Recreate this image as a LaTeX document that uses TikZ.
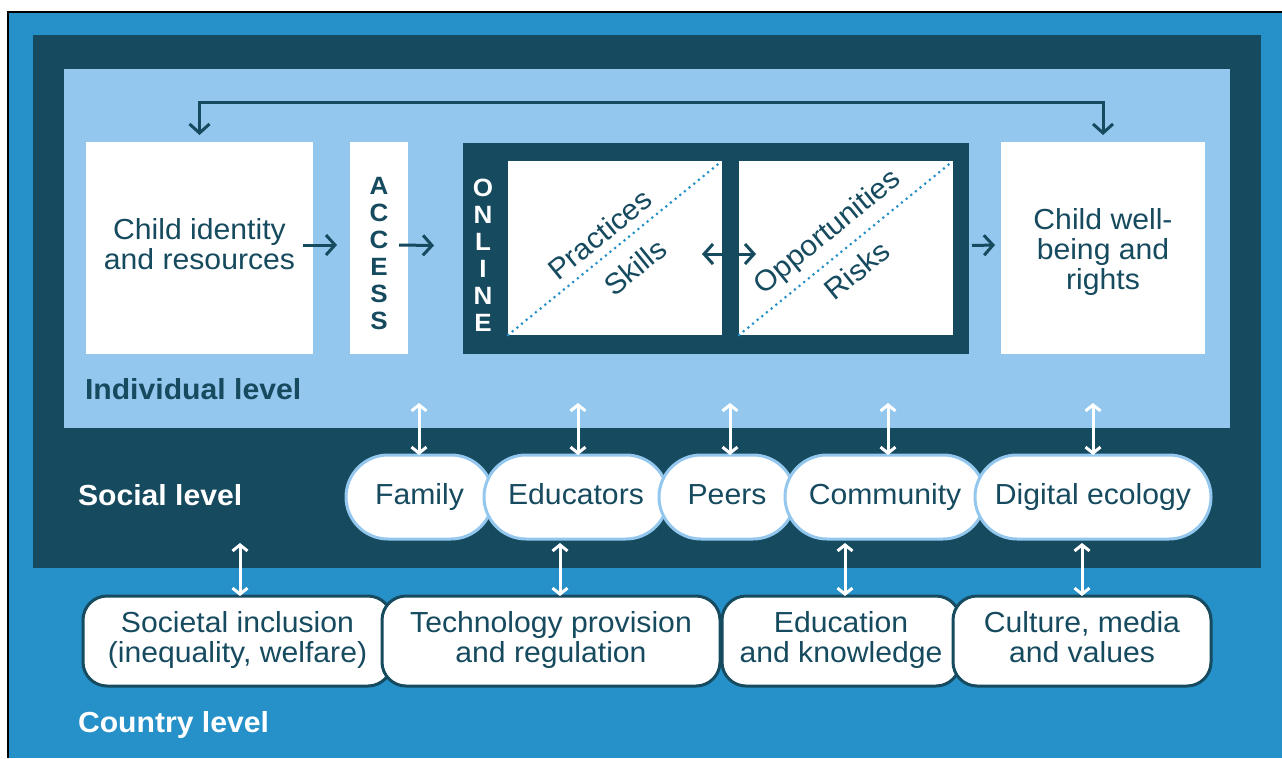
\documentclass[tikz,border=0pt]{standalone}
\usepackage{fontspec}
\setmainfont[FakeStretch=1.04]{Liberation Sans}
\usetikzlibrary{arrows.meta,shapes.misc}
\definecolor{midblue}{HTML}{2690C8}
\definecolor{navy}{HTML}{164A5E}
\definecolor{lightblue}{HTML}{93C7EE}
\begin{document}
\begin{tikzpicture}[x=1pt,y=-1pt,
  every node/.style={outer sep=0pt, inner sep=0pt},
  wbox/.style={rectangle, fill=white},
  txt/.style={font=\fontsize{29}{30}\selectfont, text=navy, align=center},
  lvl/.style={font=\bfseries\fontsize{29}{30}\selectfont, anchor=west},
  vlet/.style={font=\bfseries\fontsize{25}{27}\selectfont, align=center},
  diagtxt/.style={txt, rotate=39},
  oval/.style={rounded rectangle, fill=white, draw=lightblue, line width=3pt, minimum height=84pt, txt, text height=21pt, text depth=6pt},
  cbox/.style={rectangle, rounded corners=24pt, fill=white, draw=navy, line width=3pt, minimum height=90pt, txt, execute at end node={\strut}},
  navyarrow/.style={draw=navy, line width=3pt, -{Straight Barb[length=9pt,width=20pt]}},
  navyboth/.style={draw=navy, line width=3pt, {Straight Barb[length=9pt,width=20pt]}-{Straight Barb[length=9pt,width=20pt]}},
  whitearrow/.style={draw=white, line width=3pt, {Straight Barb[length=6pt,width=15pt]}-{Straight Barb[length=6pt,width=15pt]}},
  dotline/.style={draw=midblue, line width=3pt, line cap=round, dash pattern=on 0pt off 6pt}
]
\useasboundingbox (0,0) rectangle (1282,758);
% backgrounds
\fill[white] (0,0) rectangle (1282,758);
\fill[midblue] (8,11) rectangle (1282,758);
\draw[black, line width=2pt] (8.3,758) -- (8.3,12) -- (1282,12);
\fill[navy] (33,35) rectangle (1261,568);
\fill[lightblue] (64,69) rectangle (1230,428);

% individual level
\node[wbox, minimum width=227pt, minimum height=212pt] (ci) at (199.5,248) {};
\node[txt] (cit) at (199.5,244) {Child identity\\and resources};
\node[wbox, minimum width=58pt, minimum height=212pt] (acc) at (379,248) {};
\node[vlet, text=navy] (acct) at (379,254) {A\\C\\C\\E\\S\\S};
\node[rectangle, fill=navy, minimum width=506pt, minimum height=211pt] (onl) at (716,248.5) {};
\node[vlet, text=white] (onlt) at (483,255) {O\\N\\L\\I\\N\\E};
\node[wbox, minimum width=214pt, minimum height=174pt] (pr) at (615,248) {};
\node[wbox, minimum width=214pt, minimum height=174pt] (op) at (846,248) {};
\draw[dotline] (pr.south west) -- (pr.north east);
\draw[dotline] (op.south west) -- (op.north east);
\node[diagtxt] (prt) at (600,234) {Practices};
\node[diagtxt] (skt) at (635,267) {Skills};
\node[diagtxt] (opt) at (828,233) {Opportunities};
\node[diagtxt] (rit) at (857,270) {Risks};
\node[wbox, minimum width=204pt, minimum height=212pt] (wb) at (1103,248) {};
\node[txt] (wbt) at (1103,252) {Child well-\\being and\\rights};

\draw[navyarrow] ([shift={(-10,-3)}]ci.east) -- ([shift={(-13,-3)}]acc.west);
\draw[navyarrow] ([shift={(-9,-3)}]acc.east) -- ([shift={(-29,-3)}]onl.west);
\draw[navyboth] ([shift={(-20,6)}]pr.east) -- ([shift={(17,6)}]op.west);
\draw[navyarrow] ([shift={(3,-3)}]onl.east) -- ([shift={(-6,-3)}]wb.west);
\draw[navyboth] ([shift={(0,-7)}]ci.north) -- ++(0,-33) -| ([shift={(0,-7)}]wb.north);

\node[lvl, text=navy] (indl) at (85,389) {Individual level};

% social level
\node[oval, minimum width=147pt] (fam) at (419.5,497) {Family};
\node[oval, minimum width=184pt] (edu) at (576,497) {Educators};
\node[oval, minimum width=136pt] (peer) at (727,497) {Peers};
\node[oval, minimum width=200pt] (com) at (885,497) {Community};
\node[oval, minimum width=236pt] (dig) at (1093,497) {Digital ecology};
\node[lvl, text=white] (socl) at (78,495) {Social level};

\coordinate (famtop) at (419,403);
\coordinate (edutop) at (578,403);
\coordinate (peertop) at (730,403);
\coordinate (comtop) at (888,403);
\coordinate (digtop) at (1093,403);
\draw[whitearrow] (famtop) -- (famtop |- fam.north);
\draw[whitearrow] (edutop) -- (edutop |- edu.north);
\draw[whitearrow] (peertop) -- (peertop |- peer.north);
\draw[whitearrow] (comtop) -- (comtop |- com.north);
\draw[whitearrow] (digtop) -- (digtop |- dig.north);

% country level
\node[cbox, minimum width=309pt] (si) at (237.5,641) {Societal inclusion\\(inequality, welfare)};
\node[cbox, minimum width=338pt] (tech) at (551,641) {Technology provision\\and regulation};
\node[cbox, minimum width=238pt] (educ) at (841,641) {Education\\and knowledge};
\node[cbox, minimum width=258pt] (cul) at (1082,641) {Culture, media\\and values};
\node[lvl, text=white] (cntl) at (78,725) {Country level};

\coordinate (socb) at (240,543);
\coordinate (edub) at (560,543);
\coordinate (comb) at (845,543);
\coordinate (digb) at (1082,543);
\draw[whitearrow] (socb) -- (socb |- si.north);
\draw[whitearrow] (edub) -- (edub |- tech.north);
\draw[whitearrow] (comb) -- (comb |- educ.north);
\draw[whitearrow] (digb) -- (digb |- cul.north);
\end{tikzpicture}
\end{document}
